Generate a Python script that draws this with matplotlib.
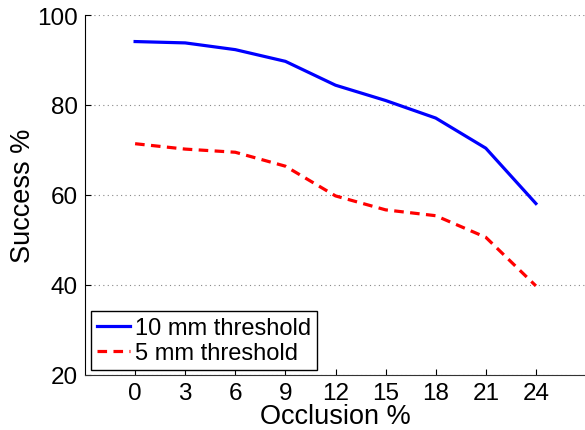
import matplotlib
matplotlib.use('Agg')
import matplotlib.pyplot as plt

plt.rcParams['font.family'] = ['Liberation Sans', 'DejaVu Sans']

# data
occlusion = [0, 3, 6, 9, 12, 15, 18, 21, 24]
success_10mm = [94.1, 93.8, 92.3, 89.7, 84.4, 81.0, 77.1, 70.4, 58.1]
success_5mm = [71.4, 70.2, 69.5, 66.4, 59.8, 56.7, 55.4, 50.6, 39.8]
x_ticks = [0, 3, 6, 9, 12, 15, 18, 21, 24]
y_ticks = [20, 40, 60, 80, 100]

fig = plt.figure(figsize=(5.85, 4.31), dpi=100)
ax = fig.add_axes([85 / 585, 1 - 376 / 431, 501 / 585, 360 / 431])

ax.plot(occlusion, success_10mm, color='#0000ff', lw=2.3, label='10 mm threshold')
ax.plot(occlusion, success_5mm, color='#ff0000', lw=2.3, ls=(0, (3, 2)), label='5 mm threshold')

ax.set_xlim(-3, 27)
ax.set_ylim(20, 100)
ax.set_xticks(x_ticks)
ax.set_yticks(y_ticks)
ax.tick_params(direction='in', length=4, width=0.8, labelsize=17.5, pad=5)
ax.yaxis.grid(True, linestyle=(0, (1, 3)), color='#888888', lw=0.8)
ax.set_axisbelow(True)

for s in ['top', 'right']:
    ax.spines[s].set_visible(False)
ax.spines['left'].set_color('black')
ax.spines['bottom'].set_color('#333333')

ax.set_xlabel('Occlusion %', fontsize=19.5, labelpad=-1)
ax.set_ylabel('Success %', fontsize=19.5, labelpad=1)

leg = ax.legend(loc='lower left', bbox_to_anchor=(0.012, 0.013), borderaxespad=0,
                fontsize=17, handlelength=1.4, handletextpad=0.2, labelspacing=0.15,
                borderpad=0.25, fancybox=False, framealpha=1)
leg.get_frame().set_edgecolor('black')
leg.get_frame().set_linewidth(1.0)

fig.savefig('out.png', dpi=100)
